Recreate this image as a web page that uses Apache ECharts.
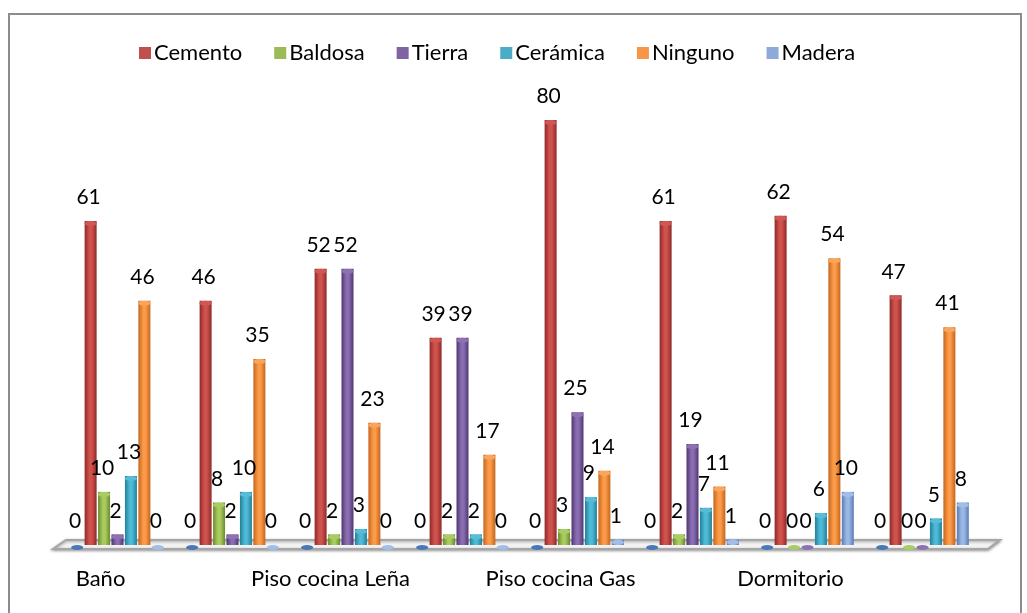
<!DOCTYPE html>
<html>
<head>
<meta charset="utf-8">
<script src="https://cdn.jsdelivr.net/npm/echarts@6/dist/echarts.min.js"></script>
<style>
html,body{margin:0;padding:0;background:#fff;}
#c{width:1027px;height:613px;}
</style>
</head>
<body>
<div id="c"></div>
<script>
// ---- data ----
var categories = ['Baño', 'Baño (2)', 'Piso cocina Leña', 'Piso cocina Leña (2)', 'Piso cocina Gas', 'Piso cocina Gas (2)', 'Dormitorio', 'Dormitorio (2)'];
var serieVacia = [0, 0, 0, 0, 0, 0, 0, 0];
var cemento  = [61, 46, 52, 39, 80, 61, 62, 47];
var baldosa  = [10, 8, 2, 2, 3, 2, 0, 0];
var tierra   = [2, 2, 52, 39, 25, 19, 0, 0];
var ceramica = [13, 10, 3, 2, 9, 7, 6, 5];
var ninguno  = [46, 35, 23, 17, 14, 11, 54, 41];
var madera   = [0, 0, 0, 0, 1, 1, 10, 8];
var seriesNames = ['Serie 1', 'Cemento', 'Baldosa', 'Tierra', 'Cerámica', 'Ninguno', 'Madera'];
var seriesData = [serieVacia, cemento, baldosa, tierra, ceramica, ninguno, madera];
var legendNames = ['Cemento', 'Baldosa', 'Tierra', 'Cerámica', 'Ninguno', 'Madera'];

// ---- styles ----
var palette = [
  {dark:'#23467a', mid:'#3d68a8', solid:'#3a64a3', cap:'#4a77b8'},
  {dark:'#8e2a27', mid:'#d0524e', solid:'#c0504d', cap:'#cf5855'},
  {dark:'#6c8a2f', mid:'#a8cc5e', solid:'#9bbb59', cap:'#a9cc64'},
  {dark:'#4e3672', mid:'#8a6db0', solid:'#8064a2', cap:'#8d71b0'},
  {dark:'#217f98', mid:'#4fbad6', solid:'#4bacc6', cap:'#58bcd6'},
  {dark:'#c3661d', mid:'#fb9a48', solid:'#f79646', cap:'#fba55c'},
  {dark:'#5a7bb3', mid:'#9ab8e6', solid:'#8eaadb', cap:'#a2bde8'}
];
var FONT = 'Lato, "Open Sans", sans-serif';
var BAR_W = 12;
var BAR_GAP = '12%';
var GRID = {left: 60, right: 47, top: 120, bottom: 68};

function grad(p) {
  return new echarts.graphic.LinearGradient(0, 0, 1, 0, [
    {offset: 0, color: p.dark},
    {offset: 0.4, color: p.mid},
    {offset: 0.6, color: p.mid},
    {offset: 1, color: p.dark}
  ]);
}

var series = [];
seriesNames.forEach(function (name, i) {
  series.push({
    type: 'bar',
    name: name,
    data: seriesData[i],
    barWidth: BAR_W,
    barGap: BAR_GAP,
    itemStyle: {color: grad(palette[i])},
    label: {
      show: true,
      position: 'top',
      distance: 13,
      color: '#000',
      fontSize: 21,
      fontFamily: FONT,
      offset: [-2, 0]
    },
    z: 2
  });
});
seriesNames.forEach(function (name, i) {
  series.push({
    type: 'pictorialBar',
    name: name,
    data: seriesData[i],
    symbol: 'circle',
    symbolSize: [BAR_W, 5],
    symbolPosition: 'end',
    symbolOffset: [0, 0],
    barWidth: BAR_W,
    barGap: BAR_GAP,
    itemStyle: {color: palette[i].cap},
    silent: true,
    z: 3
  });
});

var chart = echarts.init(document.getElementById('c'));
chart.setOption({
  backgroundColor: '#fff',
  animation: false,
  legend: {
    data: legendNames.map(function (n, k) {
      return {name: n, itemStyle: {color: palette[k + 1].solid}};
    }),
    left: 134,
    top: 37,
    icon: 'rect',
    itemWidth: 12,
    itemHeight: 12,
    itemGap: 32,
    textStyle: {fontSize: 22, fontFamily: FONT, color: '#000', padding: [0, 0, 0, -2]}
  },
  grid: GRID,
  xAxis: {
    type: 'category',
    data: categories,
    axisLine: {show: false},
    axisTick: {show: false},
    axisLabel: {
      interval: 1,
      fontSize: 22,
      fontFamily: FONT,
      color: '#000',
      margin: 23,
      padding: [0, 34, 0, 0]
    }
  },
  yAxis: {
    type: 'value',
    min: 0,
    max: 80,
    show: false,
    splitLine: {show: false}
  },
  series: series
});

// decorations: outer frame and 3D floor computed from grid layout
var W = 1027, H = 613;
var gl = GRID.left, gr = W - GRID.right, gb = H - GRID.bottom;
chart.setOption({
  graphic: [
    {
      type: 'rect', z: -10, silent: true,
      shape: {x: 9, y: 14, width: 1012, height: 620},
      style: {fill: 'none', stroke: '#8c8c8c', lineWidth: 2}
    },
    {
      type: 'polygon', z: 0, silent: true,
      shape: {points: [[gl + 6, gb - 5], [gr + 20, gb - 5], [gr + 8, gb + 4], [gl - 7, gb + 4]]},
      style: {fill: '#f4f4f4', stroke: '#a6a6a6', lineWidth: 2, shadowBlur: 3, shadowColor: 'rgba(0,0,0,0.35)', shadowOffsetY: 1}
    }
  ]
});
</script>
</body>
</html>
